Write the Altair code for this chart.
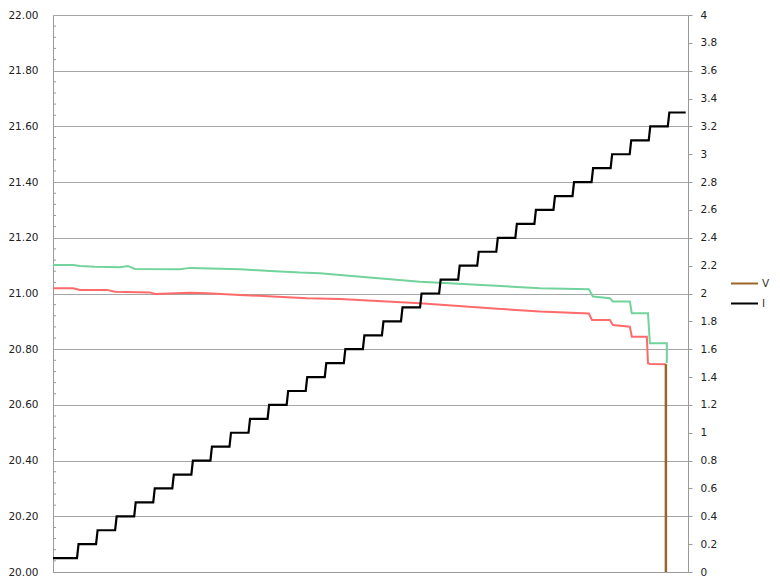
import altair as alt
import pandas as pd

# Horizontal axis: sample index (no labels in the original chart)
t_max = 333.2

# Upper (green) voltage trace
green_t = [0, 10.5, 14.2, 22, 35.2, 39.3, 43, 66.6, 71.9, 82.4, 98.1, 113.9, 129.6,
           140.1, 150.6, 192.5, 203, 255.5, 281.2, 283.3, 292.2, 293.8, 302.7, 303.7,
           312.2, 313.2, 322.1, 322.1]
green_v = [21.102, 21.102, 21.099, 21.096, 21.094, 21.099, 21.088, 21.087, 21.092,
           21.090, 21.087, 21.081, 21.075, 21.073, 21.066, 21.042, 21.039, 21.019,
           21.015, 20.989, 20.983, 20.971, 20.971, 20.929, 20.929, 20.821, 20.821,
           20.750]

# Lower (red) voltage trace
red_t = [0, 10.5, 14.2, 28.3, 32.5, 50.9, 53.5, 71.9, 80.8, 98.1, 115.4, 133.3,
         150.6, 192.5, 229.3, 255.5, 281.2, 282.8, 292.2, 293.8, 302.7, 303.7,
         311.6, 312.2, 313.2, 321.6]
red_v = [21.019, 21.019, 21.013, 21.013, 21.006, 21.004, 20.998, 21.003, 21.001,
         20.995, 20.989, 20.983, 20.980, 20.965, 20.947, 20.935, 20.928, 20.905,
         20.905, 20.887, 20.881, 20.845, 20.845, 20.750, 20.747, 20.746]

# V series (brown) - final drop
v_t = [321.6, 321.6]
v_v = [20.746, 20.00]

# I series (black) - current staircase
i_levels = [0.1, 0.2, 0.3, 0.4, 0.5, 0.6, 0.7, 0.8, 0.9, 1.0, 1.1, 1.2, 1.3, 1.4,
            1.5, 1.6, 1.7, 1.8, 1.9, 2.0, 2.1, 2.2, 2.3, 2.4, 2.5, 2.6, 2.7, 2.8,
            2.9, 3.0, 3.1, 3.2, 3.3]
i_step_t = [12.6, 22.6, 32.6, 42.6, 52.6, 62.6, 72.6, 82.6, 92.6, 102.6, 112.6,
            122.6, 132.6, 142.6, 152.6, 162.6, 172.6, 182.6, 192.6, 202.6, 212.6,
            222.6, 232.6, 242.6, 252.6, 262.6, 272.6, 282.6, 292.6, 302.6, 312.6,
            322.6]
i_end_t = 332.0
step_rise = 0.8

left_ticks = [20.0, 20.2, 20.4, 20.6, 20.8, 21.0, 21.2, 21.4, 21.6, 21.8, 22.0]
minor_ticks = [20.04, 20.08, 20.12, 20.16, 20.24, 20.28, 20.32, 20.36, 20.44, 20.48,
               20.52, 20.56, 20.64, 20.68, 20.72, 20.76, 20.84, 20.88, 20.92, 20.96,
               21.04, 21.08, 21.12, 21.16, 21.24, 21.28, 21.32, 21.36, 21.44, 21.48,
               21.52, 21.56, 21.64, 21.68, 21.72, 21.76, 21.84, 21.88, 21.92, 21.96]
right_ticks = [0, 0.2, 0.4, 0.6, 0.8, 1, 1.2, 1.4, 1.6, 1.8, 2, 2.2, 2.4, 2.6, 2.8,
               3, 3.2, 3.4, 3.6, 3.8, 4]

# ---- tables ----
green_df = pd.DataFrame({"t": green_t, "v": green_v, "o": range(len(green_t))})
red_df = pd.DataFrame({"t": red_t, "v": red_v, "o": range(len(red_t))})
vdf = pd.DataFrame({"t": v_t, "v": v_v, "o": [0, 1], "series": ["V", "V"]})

rows = [(0.0, i_levels[0])]
for k, ts in enumerate(i_step_t):
    rows.append((ts, i_levels[k]))
    rows.append((ts + step_rise, i_levels[k + 1]))
rows.append((i_end_t, i_levels[-1]))
idf = pd.DataFrame({"t": [r[0] for r in rows], "i": [r[1] for r in rows],
                    "o": range(len(rows)), "series": "I"})
mdf = pd.DataFrame({"m": minor_ticks})

FONT = "DejaVu Sans"
AXIS_GRAY = "#9a9a9a"

xscale = alt.Scale(domain=[0, t_max], nice=False, zero=False)
xaxis = alt.Axis(labels=False, ticks=False, grid=False, title=None,
                 domainColor=AXIS_GRAY, domainWidth=1)
x = alt.X("t:Q", scale=xscale, axis=xaxis)

vscale = alt.Scale(domain=[20, 22], nice=False, zero=False)
left_axis = alt.Axis(values=left_ticks, format=".2f", title=None, ticks=False,
                     labelPadding=15, grid=True, gridColor="#a6a6a6", gridWidth=1,
                     domainColor=AXIS_GRAY, labelFont=FONT, labelFontSize=10.5,
                     labelColor="#222222", orient="left")

iscale = alt.Scale(domain=[0, 4], nice=False, zero=True)
right_axis = alt.Axis(values=right_ticks, format="~g", title=None, tickSize=4,
                      tickColor=AXIS_GRAY, labelPadding=8, grid=False,
                      domainColor=AXIS_GRAY, labelFont=FONT, labelFontSize=10.5,
                      labelColor="#222222", orient="right", labelOverlap=False)

color = alt.Color("series:N",
                  scale=alt.Scale(domain=["V", "I"], range=["#9b6428", "#000000"]),
                  legend=alt.Legend(title=None, orient="none", legendX=677,
                                    legendY=254, symbolType="stroke",
                                    symbolSize=729, symbolStrokeWidth=2,
                                    labelFont=FONT, labelFontSize=10.5,
                                    labelColor="#333333", labelOffset=3,
                                    rowPadding=0))

green = alt.Chart(green_df).mark_line(color="#72d39c", strokeWidth=2).encode(
    x=x, y=alt.Y("v:Q", scale=vscale, axis=left_axis), order="o:Q")
red = alt.Chart(red_df).mark_line(color="#ff6a6a", strokeWidth=2).encode(
    x=x, y=alt.Y("v:Q", scale=vscale, axis=left_axis), order="o:Q")
vline = alt.Chart(vdf).mark_line(strokeWidth=2.5).encode(
    x=x, y=alt.Y("v:Q", scale=vscale, axis=left_axis), order="o:Q", color=color)
minor = alt.Chart(mdf).mark_rule(color=AXIS_GRAY, strokeWidth=1).encode(
    x=alt.value(0), x2=alt.value(3),
    y=alt.Y("m:Q", scale=vscale, axis=left_axis))

left = alt.layer(minor, green, red, vline)

iline = alt.Chart(idf).mark_line(strokeWidth=2.2).encode(
    x=x, y=alt.Y("i:Q", scale=iscale, axis=right_axis), order="o:Q", color=color)

chart = alt.layer(left, iline).resolve_scale(y="independent").properties(
    width=635, height=557,
    padding={"left": 45, "top": 7, "right": 82, "bottom": 8},
    autosize="none",
).configure_view(stroke=None).configure(background="white")

chart.save("out.html", embed_options={"renderer": "svg", "actions": False})
